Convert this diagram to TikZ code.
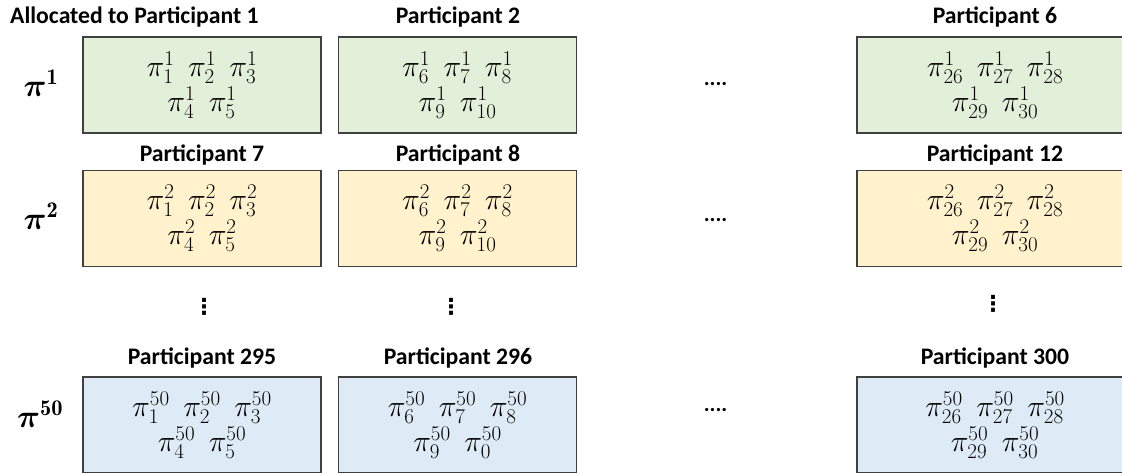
\documentclass[tikz,border=0pt]{standalone}
\usepackage{fix-cm}
\usepackage{amsmath}
\usepackage{fontspec}
\newfontfamily\titlefont{Carlito}
\newfontfamily\symfont{DejaVu Sans}
\DeclareMathSizes{30}{30}{21}{15}
\definecolor{cgreen}{HTML}{E2F0D9}
\definecolor{corange}{HTML}{FFF2CC}
\definecolor{cblue}{HTML}{DEEBF7}
\definecolor{boxline}{HTML}{404040}
\newcommand\pik[2]{\pi^{#1}_{#2}}
\newcommand\gp{\hspace{0.45em}}
\begin{document}
\begin{tikzpicture}[x=1pt,y=-1pt,
  cell/.style={draw=boxline, line width=1.3pt, minimum width=238pt, minimum height=96pt,
    inner sep=0pt, align=center, font=\fontsize{30}{35}\selectfont},
  widecell/.style={cell, minimum width=276pt},
  gbox/.style={fill=cgreen},
  obox/.style={fill=corange},
  bbox/.style={fill=cblue},
  ttl/.style={font=\titlefont\bfseries\fontsize{23.7}{26}\selectfont, inner sep=0pt},
  rowlab/.style={font=\fontsize{32}{34}\selectfont, inner sep=0pt},
  hdotsn/.style={font=\titlefont\bfseries\fontsize{22}{24}\selectfont, inner sep=0pt},
  vdotsn/.style={font=\symfont\bfseries\fontsize{22}{24}\selectfont, inner sep=0pt}]
\clip (0,0) rectangle (1122,472);
% row 1
\node[ttl, anchor=west] (t1) at (10,17) {Allocated to Participant 1};
\node[ttl] (t2) at (458,17) {Participant 2};
\node[ttl] (t6) at (995,17) {Participant 6};
\node[rowlab] (r1) at (41,83) {$\boldsymbol{\pi}^{\mathbf{1}}$};
\node[cell,gbox] (b11) at (202,85) {$\pik{1}{1}\gp\pik{1}{2}\gp\pik{1}{3}$\\$\pik{1}{4}\gp\pik{1}{5}$};
\node[cell,gbox] (b12) at (457.5,85) {$\pik{1}{6}\gp\pik{1}{7}\gp\pik{1}{8}$\\$\pik{1}{9}\gp\pik{1}{10}$};
\node[widecell,gbox] (b16) at (995,85) {$\pik{1}{26}\gp\pik{1}{27}\gp\pik{1}{28}$\\$\pik{1}{29}\gp\pik{1}{30}$};
\node[hdotsn] (h1) at (715.5,84) {....};
% row 2
\node[ttl] (t7) at (202,155) {Participant 7};
\node[ttl] (t8) at (458,155) {Participant 8};
\node[ttl] (t12) at (995,155) {Participant 12};
\node[rowlab] (r2) at (41,216) {$\boldsymbol{\pi}^{\mathbf{2}}$};
\node[cell,obox] (b21) at (202,218.5) {$\pik{2}{1}\gp\pik{2}{2}\gp\pik{2}{3}$\\$\pik{2}{4}\gp\pik{2}{5}$};
\node[cell,obox] (b22) at (457.5,218.5) {$\pik{2}{6}\gp\pik{2}{7}\gp\pik{2}{8}$\\$\pik{2}{9}\gp\pik{2}{10}$};
\node[widecell,obox] (b26) at (995,218.5) {$\pik{2}{26}\gp\pik{2}{27}\gp\pik{2}{28}$\\$\pik{2}{29}\gp\pik{2}{30}$};
\node[hdotsn] (h2) at (715.5,220) {....};
% vertical dots
\node[vdotsn] (v1) at (204,307) {⋮};
\node[vdotsn] (v2) at (451,307) {⋮};
\node[vdotsn] (v3) at (993,304) {⋮};
% row 3
\node[ttl] (t295) at (202,358) {Participant 295};
\node[ttl] (t296) at (458,358) {Participant 296};
\node[ttl] (t300) at (995,358) {Participant 300};
\node[rowlab] (r3) at (40,414) {$\boldsymbol{\pi}^{\mathbf{50}}$};
\node[cell,bbox] (b31) at (202,425) {$\pik{50}{1}\gp\pik{50}{2}\gp\pik{50}{3}$\\$\pik{50}{4}\gp\pik{50}{5}$};
\node[cell,bbox] (b32) at (457.5,425) {$\pik{50}{6}\gp\pik{50}{7}\gp\pik{50}{8}$\\$\pik{50}{9}\gp\pik{50}{0}$};
\node[widecell,bbox] (b36) at (995,425) {$\pik{50}{26}\gp\pik{50}{27}\gp\pik{50}{28}$\\$\pik{50}{29}\gp\pik{50}{30}$};
\node[hdotsn] (h3) at (715.5,410) {....};
\end{tikzpicture}
\end{document}
